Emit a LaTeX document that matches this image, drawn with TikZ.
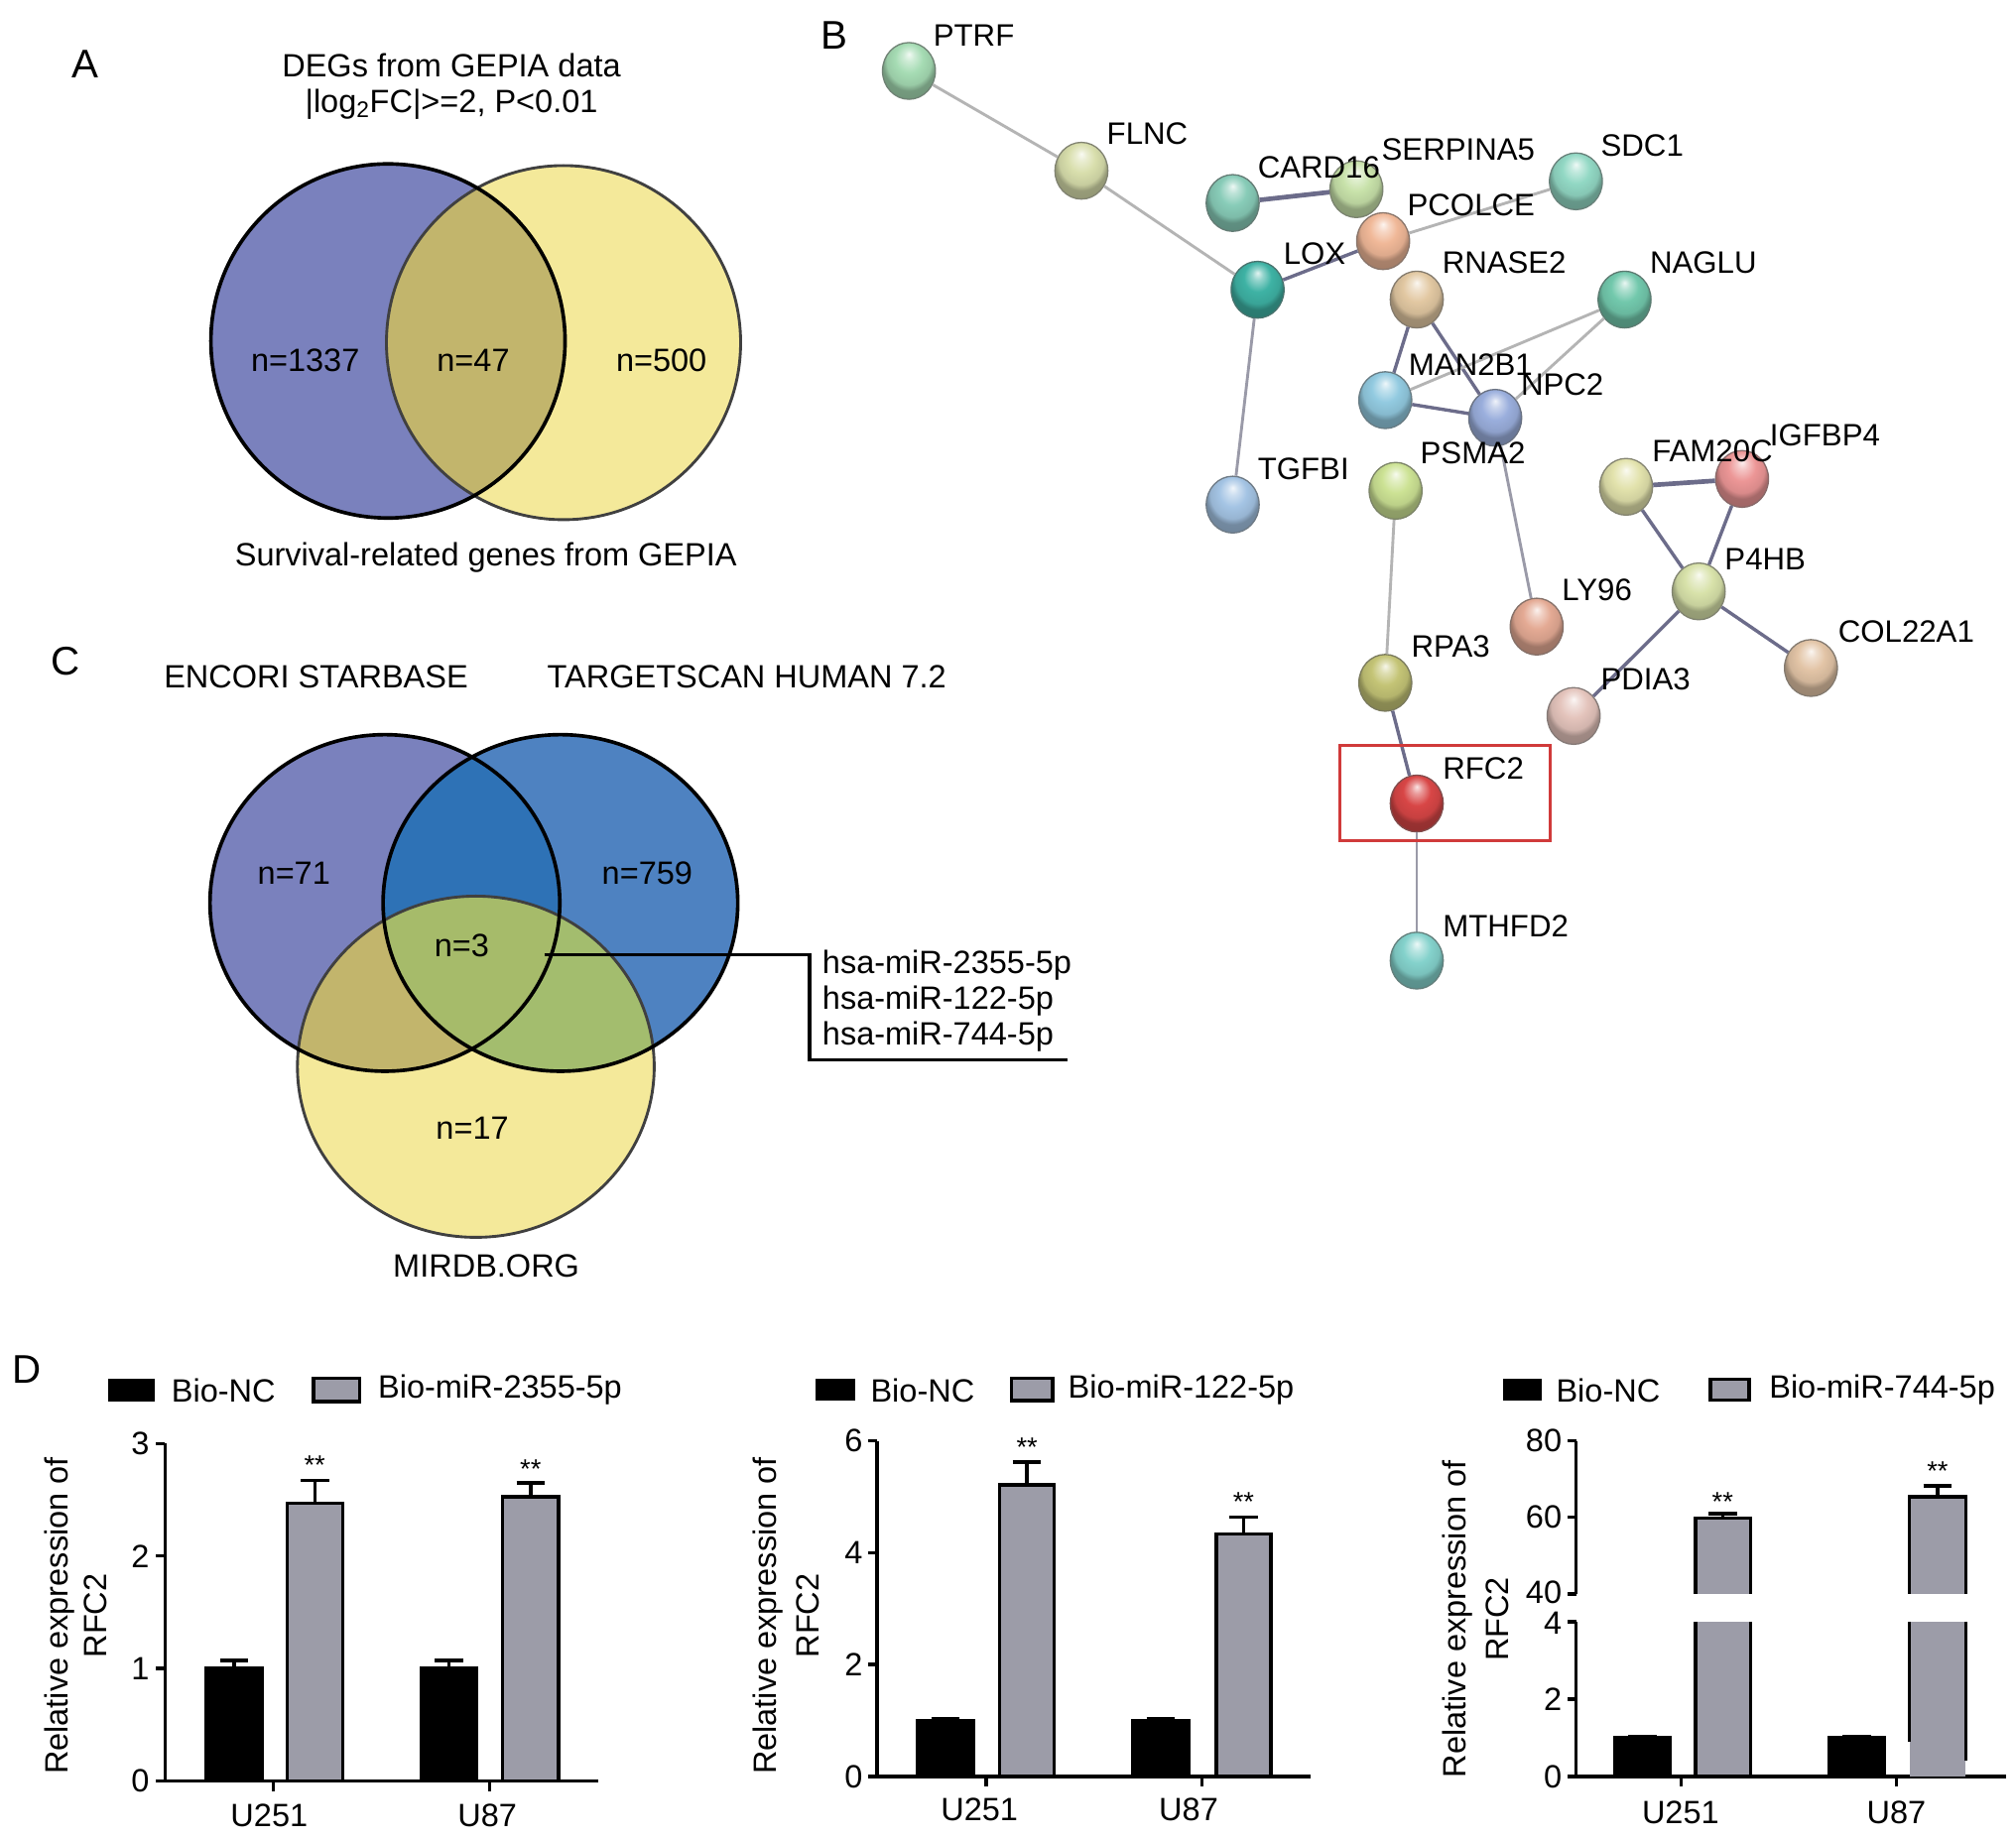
\documentclass[tikz,border=0pt]{standalone}
\usepackage{fontspec}
\setmainfont{Liberation Sans}
\usetikzlibrary{shapes.geometric}
\definecolor{vpurple}{HTML}{7A81BD}
\definecolor{vyellow}{HTML}{F4E99A}
\definecolor{vkhaki}{HTML}{C2B56C}
\definecolor{vblue}{HTML}{4E82C1}
\definecolor{vdblue}{HTML}{2E72B6}
\definecolor{vgreen}{HTML}{A3BD6E}
\definecolor{vtriple}{HTML}{A6BB6A}
\definecolor{barg}{HTML}{9C9CA8}
\definecolor{liteedge}{HTML}{B4B4B4}
\definecolor{darkedge}{HTML}{6C6C8A}
\definecolor{midedge}{HTML}{9A9AA8}
\definecolor{cPTRF}{HTML}{A6DCB4}
\definecolor{cFLNC}{HTML}{D8DEAC}
\definecolor{cCARD}{HTML}{88CCB8}
\definecolor{cSERP}{HTML}{C8E2AA}
\definecolor{cSDC}{HTML}{92D8C4}
\definecolor{cPCOL}{HTML}{F0B898}
\definecolor{cLOX}{HTML}{3EB2A4}
\definecolor{cRNAS}{HTML}{E2C8A2}
\definecolor{cNAGL}{HTML}{72C8AC}
\definecolor{cMAN}{HTML}{92CAE0}
\definecolor{cNPC}{HTML}{9AAEDC}
\definecolor{cTGF}{HTML}{A4C4E4}
\definecolor{cPSMA}{HTML}{CCE294}
\definecolor{cFAM}{HTML}{E2E2AC}
\definecolor{cIGF}{HTML}{EC9696}
\definecolor{cP4HB}{HTML}{D8E2AA}
\definecolor{cLY}{HTML}{E4AA94}
\definecolor{cCOL}{HTML}{E2C4A6}
\definecolor{cRPA}{HTML}{C4C476}
\definecolor{cPDIA}{HTML}{E4C4BC}
\definecolor{cRFC}{HTML}{D84646}
\definecolor{cMTH}{HTML}{84D2CC}
\definecolor{boxred}{HTML}{D03A3A}
\colorlet{ballc}{gray}
\pgfdeclareradialshading[ballc]{sball}{\pgfpoint{0bp}{15bp}}{%
  color(0bp)=(ballc!15!white); color(5bp)=(ballc!55!white);
  color(13bp)=(ballc); color(21bp)=(ballc!92!black);
  color(25bp)=(ballc!70!black); color(50bp)=(ballc!60!black)}
\newcommand{\errbar}[4]{% x, ytop, yerr, halfcap
  \draw[eb] ({#1},{#2}) -- ({#1},{#3}) ({#1-#4},{#3}) -- ({#1+#4},{#3});}
\begin{document}
\begin{tikzpicture}[x=1pt,y=-1pt,
  txt/.style={font=\fontsize{25}{30}\selectfont, inner sep=0pt},
  star/.style={font=\fontsize{21}{24}\selectfont, inner sep=0pt},
  glab/.style={font=\fontsize{24}{28}\selectfont, inner sep=0pt, anchor=west},
  panel/.style={font=\fontsize{31}{36}\selectfont, inner sep=0pt},
  ballnode/.style={ellipse, minimum width=41pt, minimum height=44pt, inner sep=0pt,
     /utils/exec={\colorlet{ballc}{#1}}, shading=sball, draw=#1!45!black!80, line width=1pt},
  lite/.style={draw=liteedge, line width=2.2pt},
  midl/.style={draw=midedge, line width=2.2pt},
  dark/.style={draw=darkedge, line width=2.6pt},
  darkthick/.style={draw=darkedge, line width=3.6pt},
  ax/.style={draw=black, line width=2.6pt},
  eb/.style={draw=black, line width=2.6pt},
  blackbar/.style={fill=black, draw=black, line width=2.4pt},
  graybar/.style={fill=barg, draw=black, line width=2.6pt},
  outblack/.style={draw=black, line width=2.8pt},
  outgray/.style={draw=black!75, line width=2.2pt}
]
\useasboundingbox[fill=white] (0,0) rectangle (1563,1426);

%================ Panel A
\node[panel] (lA) at (66,50) {A};
\node[txt] (tA1) at (350,51) {DEGs from GEPIA data};
\node[txt] (tA2) at (350,81) {|log\textsubscript{2}FC|>=2, P<0.01};
\fill[vpurple] (300.8,264.4) circle [radius=137.3];
\fill[vyellow] (436.9,265.7) circle [radius=137.3];
\begin{scope}
  \clip (300.8,264.4) circle [radius=137.3];
  \fill[vkhaki] (436.9,265.7) circle [radius=137.3];
\end{scope}
\draw[outgray] (436.9,265.7) circle [radius=137.3];
\draw[outblack] (300.8,264.4) circle [radius=137.3];
\node[txt] (nA1) at (236.7,279.7) {n=1337};
\node[txt] (nA2) at (366.9,279.7) {n=47};
\node[txt] (nA3) at (512.8,279.7) {n=500};
\node[txt] (tA3) at (376.7,432.6) {Survival-related genes from GEPIA};

%================ Panel C
\node[panel] (lC) at (51,513) {C};
\node[txt] (tC1) at (245,525.2) {ENCORI STARBASE};
\node[txt] (tC2) at (579,525.2) {TARGETSCAN HUMAN 7.2};
\fill[vpurple] (298.4,700.2) ellipse [x radius=135.6, y radius=130.5];
\fill[vblue] (434.5,700.2) ellipse [x radius=137.5, y radius=130.5];
\fill[vyellow] (368.9,827.2) ellipse [x radius=138.3, y radius=132.3];
\begin{scope}
  \clip (298.4,700.2) ellipse [x radius=135.6, y radius=130.5];
  \fill[vdblue] (434.5,700.2) ellipse [x radius=137.5, y radius=130.5];
  \fill[vkhaki] (368.9,827.2) ellipse [x radius=138.3, y radius=132.3];
\end{scope}
\begin{scope}
  \clip (434.5,700.2) ellipse [x radius=137.5, y radius=130.5];
  \fill[vgreen] (368.9,827.2) ellipse [x radius=138.3, y radius=132.3];
\end{scope}
\begin{scope}
  \clip (298.4,700.2) ellipse [x radius=135.6, y radius=130.5];
  \clip (434.5,700.2) ellipse [x radius=137.5, y radius=130.5];
  \fill[vtriple] (368.9,827.2) ellipse [x radius=138.3, y radius=132.3];
\end{scope}
\draw[outgray] (368.9,827.2) ellipse [x radius=138.3, y radius=132.3];
\draw[outblack] (298.4,700.2) ellipse [x radius=135.6, y radius=130.5];
\draw[outblack] (434.5,700.2) ellipse [x radius=137.5, y radius=130.5];
\node[txt] (nC1) at (227.9,677.3) {n=71};
\node[txt] (nC2) at (501.8,677.3) {n=759};
\node[txt] (nC3) at (358,732.9) {n=3};
\node[txt] (nC4) at (366.2,874.8) {n=17};
\node[txt] (tC3) at (377,982) {MIRDB.ORG};
\node[txt, anchor=west] (m1) at (637.4,748.3) {hsa-miR-2355-5p};
\node[txt, anchor=west] (m2) at (637.4,776) {hsa-miR-122-5p};
\node[txt, anchor=west] (m3) at (637.4,803.7) {hsa-miR-744-5p};
\coordinate (c3a) at (422,740.5);
\coordinate (c3b) at (827.3,821.8);
\draw[black, line width=2.6pt] (c3a) -- (627.7,740.5) -- (627.7,821.8) -- (c3b);

%================ Panel B
\node[panel] (lB) at (647,27.5) {B};
\node[ballnode=cPTRF] (ptrf) at (704.7,55) {};
\node[ballnode=cFLNC] (flnc) at (838.4,132.4) {};
\node[ballnode=cCARD] (card16) at (955.7,157.4) {};
\node[ballnode=cSERP] (serpina5) at (1051.6,146.7) {};
\node[ballnode=cSDC] (sdc1) at (1221.8,140.6) {};
\node[ballnode=cPCOL] (pcolce) at (1072.3,187) {};
\node[ballnode=cLOX] (lox) at (975,224.7) {};
\node[ballnode=cRNAS] (rnase2) at (1098.4,232.3) {};
\node[ballnode=cNAGL] (naglu) at (1259.5,232.3) {};
\node[ballnode=cMAN] (man2b1) at (1074,310.3) {};
\node[ballnode=cNPC] (npc2) at (1159.2,324) {};
\node[ballnode=cTGF] (tgfbi) at (955.7,391.3) {};
\node[ballnode=cPSMA] (psma2) at (1082,380.6) {};
\node[ballnode=cFAM] (fam20c) at (1260.7,377.5) {};
\node[ballnode=cIGF] (igfbp4) at (1350.6,371.4) {};
\node[ballnode=cP4HB] (p4hb) at (1317,458.6) {};
\node[ballnode=cLY] (ly96) at (1191.4,485.9) {};
\node[ballnode=cCOL] (col22a1) at (1404,518) {};
\node[ballnode=cRPA] (rpa3) at (1074,529.5) {};
\node[ballnode=cPDIA] (pdia3) at (1220,555.2) {};
\node[ballnode=cRFC] (rfc2) at (1098.4,623.1) {};
\node[ballnode=cMTH] (mthfd2) at (1098.4,744.9) {};

\draw[lite] (ptrf) -- (flnc);
\draw[lite] (flnc) -- (lox);
\draw[midl] (lox) -- (tgfbi);
\draw[dark] (lox) -- (pcolce);
\draw[darkthick] (card16) -- (serpina5);
\draw[lite] (pcolce) -- (sdc1);
\draw[dark] (rnase2) -- (man2b1);
\draw[dark] (rnase2) -- (npc2);
\draw[dark] (man2b1) -- (npc2);
\draw[lite] (man2b1) -- (naglu);
\draw[lite] (npc2) -- (naglu);
\draw[midl] (npc2) -- (ly96);
\draw[lite] (psma2) -- (rpa3);
\draw[dark] (rpa3) -- (rfc2);
\draw[midl] (rfc2) -- (mthfd2);
\draw[darkthick] (fam20c) -- (igfbp4);
\draw[dark] (fam20c) -- (p4hb);
\draw[dark] (igfbp4) -- (p4hb);
\draw[dark] (p4hb) -- (col22a1);
\draw[dark] (p4hb) -- (pdia3);

\node[glab] (ptrfL) at (723.5,27.5) {PTRF};
\node[glab] (flncL) at (858,104) {FLNC};
\node[glab] (card16L) at (975,130) {CARD16};
\node[glab] (serpL) at (1071,116) {SERPINA5};
\node[glab] (sdc1L) at (1241,113) {SDC1};
\node[glab] (pcolL) at (1091,159) {PCOLCE};
\node[glab] (loxL) at (995,197) {LOX};
\node[glab] (rnaseL) at (1118,204) {RNASE2};
\node[glab] (naglL) at (1279,204) {NAGLU};
\node[glab] (manL) at (1092,282.8) {MAN2B1};
\node[glab] (npcL) at (1179,298) {NPC2};
\node[glab] (tgfL) at (975,363.8) {TGFBI};
\node[glab] (psmaL) at (1101,351.6) {PSMA2};
\node[glab] (famL) at (1280.7,350) {FAM20C};
\node[glab] (igfL) at (1372,337.8) {IGFBP4};
\node[glab] (p4hbL) at (1337,434) {P4HB};
\node[glab] (lyL) at (1210.8,457.7) {LY96};
\node[glab] (colL) at (1425,489.8) {COL22A1};
\node[glab] (rpaL) at (1094,501.3) {RPA3};
\node[glab] (pdiaL) at (1241,527) {PDIA3};
\node[glab] (rfcL) at (1118.5,596.2) {RFC2};
\node[glab] (mthL) at (1118.5,718) {MTHFD2};
\draw[boxred, line width=2.6pt] (1038.9,578.2) rectangle (1201.7,651.8);

%================ Panel D
\node[panel] (lD) at (21,1062) {D};

% ---- chart 1 (y0=1381, unit 87.2)
\fill[black] (83.8,1069) rectangle (119.7,1087);
\node[txt, anchor=west] (lg1a) at (132.8,1078) {Bio-NC};
\filldraw[graybar] (243,1069) rectangle (279,1087);
\node[txt, anchor=west] (lg1b) at (293,1078) {Bio-miR-2355-5p};
\draw[ax] (128,1381) -- (128,1119.4);
\draw[ax] (124,1381) -- (464,1381);
\foreach \v in {0,1,2,3} {
  \draw[ax] (128,{1381-\v*87.2}) -- (121,{1381-\v*87.2});
  \node[txt, anchor=east] (ya\v) at (116,{1381-\v*87.2}) {\v};
}
\draw[ax] (212,1381) -- (212,1389);
\draw[ax] (379.5,1381) -- (379.5,1389);
\node[txt] (xa1) at (208.7,1408) {U251};
\node[txt] (xa2) at (377.8,1408) {U87};
\node[txt, rotate=90] (ylA) at (46.6,1253) {Relative expression of};
\node[txt, rotate=90] (ylB) at (74,1253) {RFC2};
\errbar{181.6}{1381-1.0*87.2}{1381-1.07*87.2}{11}
\filldraw[blackbar] (159.7,1381) rectangle (203.5,{1381-1.0*87.2});
\errbar{244}{1381-2.47*87.2}{1381-2.67*87.2}{11}
\filldraw[graybar] (222.5,1381) rectangle (265.6,{1381-2.47*87.2});
\errbar{348.2}{1381-1.0*87.2}{1381-1.07*87.2}{11}
\filldraw[blackbar] (326.7,1381) rectangle (369.8,{1381-1.0*87.2});
\errbar{411.4}{1381-2.525*87.2}{1381-2.65*87.2}{11}
\filldraw[graybar] (389.8,1381) rectangle (433,{1381-2.525*87.2});
\node[star] (s1a) at (244,1136) {**};
\node[star] (s1b) at (411.4,1139) {**};

% ---- chart 2 (y0=1377.5, unit 43.37)
\fill[black] (632.3,1069) rectangle (663.4,1086);
\node[txt, anchor=west] (lg2a) at (674.8,1078) {Bio-NC};
\filldraw[graybar] (784,1069) rectangle (816,1086);
\node[txt, anchor=west] (lg2b) at (828,1078) {Bio-miR-122-5p};
\draw[ax] (680,1377.5) -- (680,1117.3);
\draw[ax] (676.5,1377.5) -- (1016.3,1377.5);
\foreach \v in {0,2,4,6} {
  \draw[ax] (680,{1377.5-\v*43.37}) -- (673,{1377.5-\v*43.37});
  \node[txt, anchor=east] (yb\v) at (669,{1377.5-\v*43.37}) {\v};
}
\draw[ax] (764.5,1377.5) -- (764.5,1385.5);
\draw[ax] (931.8,1377.5) -- (931.8,1385.5);
\node[txt] (xb1) at (759.3,1403) {U251};
\node[txt] (xb2) at (921.5,1403) {U87};
\node[txt, rotate=90] (ylC) at (595.4,1253) {Relative expression of};
\node[txt, rotate=90] (ylD) at (626.5,1253) {RFC2};
\errbar{733}{1377.5-1.0*43.37}{1377.5-1.04*43.37}{11}
\filldraw[blackbar] (711,1377.5) rectangle (755,{1377.5-1.0*43.37});
\errbar{796.2}{1377.5-5.21*43.37}{1377.5-5.62*43.37}{11}
\filldraw[graybar] (775,1377.5) rectangle (817.3,{1377.5-5.21*43.37});
\errbar{899.8}{1377.5-1.0*43.37}{1377.5-1.04*43.37}{11}
\filldraw[blackbar] (878,1377.5) rectangle (921.5,{1377.5-1.0*43.37});
\errbar{964.1}{1377.5-4.33*43.37}{1377.5-4.64*43.37}{11}
\filldraw[graybar] (942.9,1377.5) rectangle (985.3,{1377.5-4.33*43.37});
\node[star] (s2a) at (796.2,1122) {**};
\node[star] (s2b) at (964.1,1165) {**};

% ---- chart 3 (lower: y0=1377.5 unit 30 ; upper: 40 at 1236, 3 per unit)
\fill[black] (1165,1069.5) rectangle (1195.3,1085.8);
\node[txt, anchor=west] (lg3a) at (1206.3,1078) {Bio-NC};
\filldraw[graybar] (1326,1069.5) rectangle (1356,1085.8);
\node[txt, anchor=west] (lg3b) at (1371.5,1078) {Bio-miR-744-5p};
\draw[ax] (1222,1377.5) -- (1222,1257.6);
\draw[ax] (1222,1236) -- (1222,1117.3);
\draw[ax] (1217.5,1377.5) -- (1555.4,1377.5);
\foreach \v in {0,2,4} {
  \draw[ax] (1222,{1377.5-\v*30}) -- (1215,{1377.5-\v*30});
}
\node[txt, anchor=east] (yc0) at (1211,1377.5) {0};
\node[txt, anchor=east] (yc2) at (1211,1317.5) {2};
\node[txt, anchor=east] (yc4) at (1211,1259) {4};
\foreach \v in {40,60,80} {
  \draw[ax] (1222,{1236-(\v-40)*2.97}) -- (1215,{1236-(\v-40)*2.97});
}
\node[txt, anchor=east] (yd40) at (1211,1235) {40};
\node[txt, anchor=east] (yd60) at (1211,1176.6) {60};
\node[txt, anchor=east] (yd80) at (1211,1117.2) {80};
\draw[ax] (1303.5,1377.5) -- (1303.5,1385.5);
\draw[ax] (1470.3,1377.5) -- (1470.3,1385.5);
\node[txt] (xc1) at (1302.9,1405.4) {U251};
\node[txt] (xc2) at (1470.3,1405.4) {U87};
\node[txt, rotate=90] (ylE) at (1129.9,1255.6) {Relative expression of};
\node[txt, rotate=90] (ylF) at (1161,1255.6) {RFC2};
\errbar{1273.5}{1377.5-1.0*30}{1377.5-1.04*30}{11}
\filldraw[blackbar] (1252,1377.5) rectangle (1295,{1377.5-1.0*30});
% U251 gray broken bar
\errbar{1335.5}{1236-(59.8-40)*2.97}{1236-(61-40)*2.97}{11}
\fill[barg] (1314.5,1377.5) rectangle (1357,1257.6);
\fill[barg] (1314.5,1236) rectangle (1357,{1236-(59.8-40)*2.97});
\draw[eb] (1314.5,1257.6) -- (1314.5,1377.5) -- (1357,1377.5) -- (1357,1257.6);
\draw[eb] (1314.5,1236) -- (1314.5,{1236-(59.8-40)*2.97}) -- (1357,{1236-(59.8-40)*2.97}) -- (1357,1236);
\errbar{1439.5}{1377.5-1.0*30}{1377.5-1.04*30}{11}
\filldraw[blackbar] (1418,1377.5) rectangle (1461,{1377.5-1.0*30});
% U87 gray broken bar
\errbar{1502.2}{1236-(65.4-40)*2.97}{1236-(68.2-40)*2.97}{11}
\fill[barg] (1480.5,1377.5) rectangle (1524,1257.6);
\fill[barg] (1480.5,1236) rectangle (1524,{1236-(65.4-40)*2.97});
\draw[eb] (1480.5,1257.6) -- (1480.5,1351);
\draw[eb] (1524,1257.6) -- (1524,1365);
\draw[eb] (1480.5,1236) -- (1480.5,{1236-(65.4-40)*2.97}) -- (1524,{1236-(65.4-40)*2.97}) -- (1524,1236);
\node[star] (s3a) at (1335.5,1165) {**};
\node[star] (s3b) at (1502.2,1141) {**};
\end{tikzpicture}
\end{document}
